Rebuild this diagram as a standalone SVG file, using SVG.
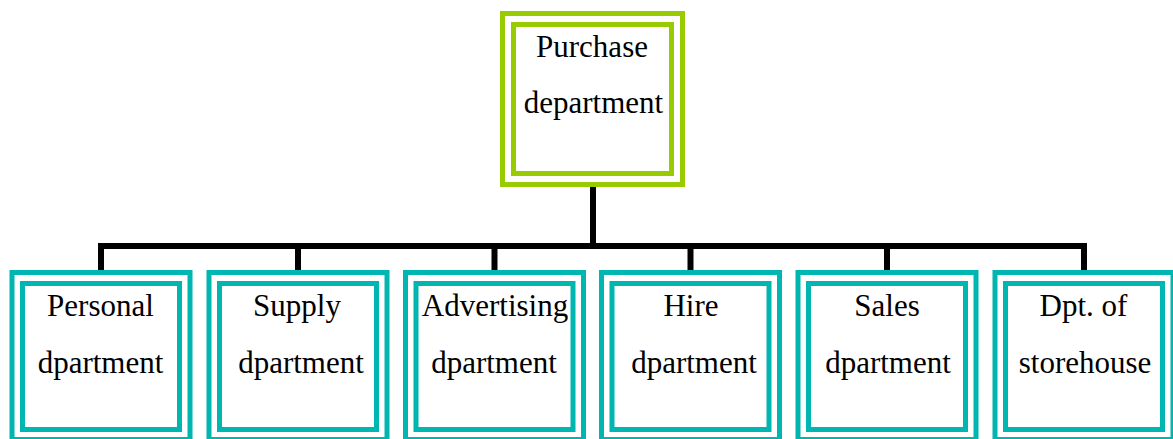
<svg xmlns="http://www.w3.org/2000/svg" width="1173" height="439" viewBox="0 0 1173 439">
  <style>
    .bg { fill: #ffffff; }
    .g-out, .g-in { fill: none; stroke: #99CC00; stroke-width: 5; }
    .t-out, .t-in { fill: none; stroke: #00B6B0; stroke-width: 5; }
    .lbl { font-family: "Liberation Serif", "Times New Roman", serif; font-size: 31px; fill: #000000; text-anchor: middle; }
    .wire { fill: none; stroke: #000000; stroke-width: 6; stroke-linejoin: miter; stroke-linecap: butt; }
  </style>
  <rect class="bg" x="0" y="0" width="1173" height="439"/>

  <!-- connectors: stem, bus and drops -->
  <g id="connectors">
    <path class="wire" d="M593,187 V246"/>
    <path class="wire" d="M101,270 V246 H1084 V270"/>
    <path class="wire" d="M298,246 V270"/>
    <path class="wire" d="M494.5,246 V270"/>
    <path class="wire" d="M690.5,246 V270"/>
    <path class="wire" d="M887,246 V270"/>
  </g>

  <!-- top node -->
  <g id="purchase">
    <rect class="g-out" x="502.5" y="13.5" width="180" height="171"/>
    <rect class="g-in" x="513.5" y="24.5" width="158" height="149"/>
    <text class="lbl" x="592" y="57">Purchase</text>
    <text class="lbl" x="593.5" y="113">department</text>
  </g>

  <g id="personal">
    <rect class="t-out" x="12" y="272.5" width="178" height="167"/>
    <rect class="t-in" x="22.5" y="283.5" width="157" height="146"/>
    <text class="lbl" x="100.5" y="316">Personal</text>
    <text class="lbl" x="100.5" y="373">dpartment</text>
  </g>

  <g id="supply">
    <rect class="t-out" x="209" y="272.5" width="178" height="167"/>
    <rect class="t-in" x="219.5" y="283.5" width="157" height="146"/>
    <text class="lbl" x="297" y="316">Supply</text>
    <text class="lbl" x="301" y="373">dpartment</text>
  </g>

  <g id="advertising">
    <rect class="t-out" x="405.5" y="272.5" width="178" height="167"/>
    <rect class="t-in" x="416" y="283.5" width="157" height="146"/>
    <text class="lbl" x="495" y="316">Advertising</text>
    <text class="lbl" x="494" y="373">dpartment</text>
  </g>

  <g id="hire">
    <rect class="t-out" x="601.5" y="272.5" width="178" height="167"/>
    <rect class="t-in" x="612" y="283.5" width="157" height="146"/>
    <text class="lbl" x="691" y="316">Hire</text>
    <text class="lbl" x="694" y="373">dpartment</text>
  </g>

  <g id="sales">
    <rect class="t-out" x="798" y="272.5" width="178" height="167"/>
    <rect class="t-in" x="808.5" y="283.5" width="157" height="146"/>
    <text class="lbl" x="887" y="316">Sales</text>
    <text class="lbl" x="888" y="373">dpartment</text>
  </g>

  <g id="storehouse">
    <rect class="t-out" x="995" y="272.5" width="178" height="167"/>
    <rect class="t-in" x="1005.5" y="283.5" width="157" height="146"/>
    <text class="lbl" x="1083.5" y="316">Dpt. of</text>
    <text class="lbl" x="1085" y="373">storehouse</text>
  </g>
</svg>
